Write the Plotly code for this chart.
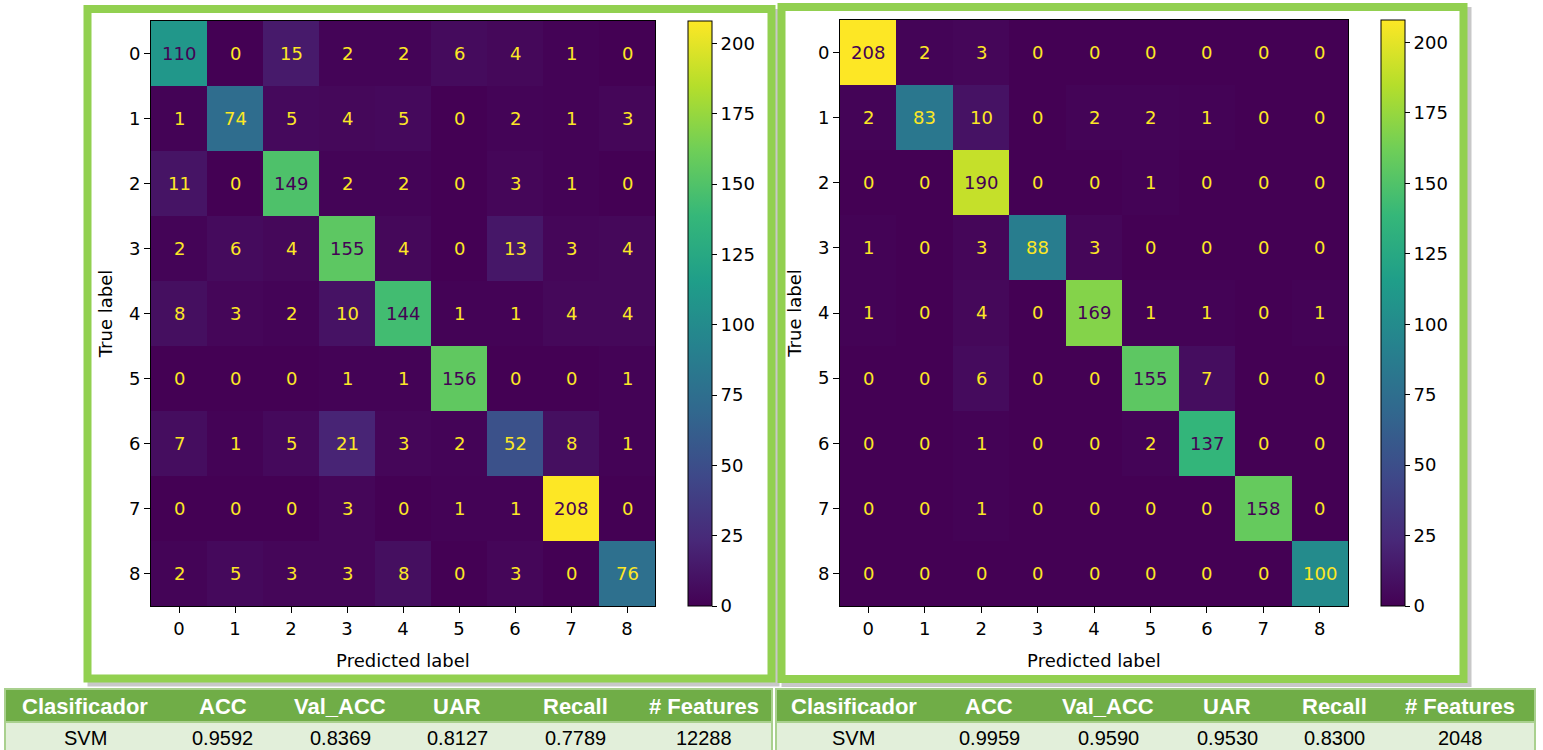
import plotly.graph_objects as go

W, H = 1543, 750

labels = [str(i) for i in range(9)]

cm_left = [
    [110, 0, 15, 2, 2, 6, 4, 1, 0],
    [1, 74, 5, 4, 5, 0, 2, 1, 3],
    [11, 0, 149, 2, 2, 0, 3, 1, 0],
    [2, 6, 4, 155, 4, 0, 13, 3, 4],
    [8, 3, 2, 10, 144, 1, 1, 4, 4],
    [0, 0, 0, 1, 1, 156, 0, 0, 1],
    [7, 1, 5, 21, 3, 2, 52, 8, 1],
    [0, 0, 0, 3, 0, 1, 1, 208, 0],
    [2, 5, 3, 3, 8, 0, 3, 0, 76],
]

cm_right = [
    [208, 2, 3, 0, 0, 0, 0, 0, 0],
    [2, 83, 10, 0, 2, 2, 1, 0, 0],
    [0, 0, 190, 0, 0, 1, 0, 0, 0],
    [1, 0, 3, 88, 3, 0, 0, 0, 0],
    [1, 0, 4, 0, 169, 1, 1, 0, 1],
    [0, 0, 6, 0, 0, 155, 7, 0, 0],
    [0, 0, 1, 0, 0, 2, 137, 0, 0],
    [0, 0, 1, 0, 0, 0, 0, 158, 0],
    [0, 0, 0, 0, 0, 0, 0, 0, 100],
]

cbar_ticks = [0, 25, 50, 75, 100, 125, 150, 175, 200]

table_header = ["Clasificador", "ACC", "Val_ACC", "UAR", "Recall", "# Features"]
left_row = ["SVM", "0.9592", "0.8369", "0.8127", "0.7789", "12288"]
right_row = ["SVM", "0.9959", "0.9590", "0.9530", "0.8300", "2048"]


def fx(x):
    return x / W


def fy(y):
    return 1 - y / H


FONT = "DejaVu Sans"
TFONT = "Liberation Sans"
DARK = "#440154"
LIGHT = "#fde725"
GREEN = "#92d050"
CELL_BG = "#e2efda"
HDR_BG = "#70ad47"

fig = go.Figure()

panels = [
    dict(cm=cm_left, xa="x", ya="y", xd=(151, 655), yd=(21, 606), cbx=688, cby=21, axn=""),
    dict(cm=cm_right, xa="x2", ya="y2", xd=(840, 1348), yd=(20, 606), cbx=1381, cby=20, axn="2"),
]

zmax = max(max(max(r) for r in cm_left), max(max(r) for r in cm_right))

annotations = []
for p in panels:
    cm = p["cm"]
    fig.add_trace(go.Heatmap(
        z=cm, x=labels, y=labels, xaxis=p["xa"], yaxis=p["ya"],
        colorscale="Viridis", zmin=0, zmax=zmax, hoverinfo="skip",
        colorbar=dict(
            x=fx(p["cbx"]), xanchor="left", xpad=0,
            y=fy(p["cby"]), yanchor="top", ypad=0,
            lenmode="pixels", len=p["yd"][1] - p["yd"][0],
            thicknessmode="pixels", thickness=24,
            outlinewidth=1, outlinecolor="black",
            tickvals=cbar_ticks, ticks="outside", ticklen=5, tickcolor="black",
            tickfont=dict(family=FONT, size=18, color="black"),
        ),
    ))
    vmax = max(max(r) for r in cm)
    thr = vmax / 2
    for i, row in enumerate(cm):
        for j, v in enumerate(row):
            annotations.append(dict(
                x=labels[j], y=labels[i], xref=p["xa"], yref=p["ya"],
                text=str(v), showarrow=False,
                font=dict(family=FONT, size=18, color=DARK if v > thr else LIGHT),
            ))

# tables (background blocks + centred text per column)
colw_left = [160, 115, 120, 114, 122, 136]
colw_right = [156, 114, 124, 114, 101, 150]
table_boxes = [(5, left_row, colw_left), (776, right_row, colw_right)]
TTOP = 689
HDR_B = 722

shapes = []
for x_start, row, cw in table_boxes:
    x_end = x_start + sum(cw)
    shapes.append(dict(type="rect", xref="paper", yref="paper", layer="below",
                       x0=fx(x_start), x1=fx(x_end), y0=fy(TTOP), y1=fy(HDR_B),
                       fillcolor=HDR_BG, line=dict(color="#a9d08e", width=2)))
    shapes.append(dict(type="rect", xref="paper", yref="paper", layer="below",
                       x0=fx(x_start), x1=fx(x_end), y0=fy(HDR_B), y1=fy(H + 2),
                       fillcolor=CELL_BG, line=dict(color="#a9d08e", width=2)))
    left = x_start
    for head, val, w in zip(table_header, row, cw):
        cx = left + w / 2
        annotations.append(dict(
            x=fx(cx), y=fy((TTOP + HDR_B) / 2 + 1), xref="paper", yref="paper",
            text="<b>%s</b>" % head, showarrow=False, xanchor="center", yanchor="middle",
            font=dict(family=TFONT, size=22, color="white"),
        ))
        annotations.append(dict(
            x=fx(cx), y=fy(738), xref="paper", yref="paper",
            text=val, showarrow=False, xanchor="center", yanchor="middle",
            font=dict(family=TFONT, size=20, color="black"),
        ))
        left += w

axis_common = dict(
    showline=True, mirror=True, linecolor="black", linewidth=1,
    ticks="outside", ticklen=6, tickcolor="black",
    tickfont=dict(family=FONT, size=18, color="black"),
    showgrid=False, zeroline=False, fixedrange=True,
)

layout = dict(
    width=W, height=H, margin=dict(l=0, r=0, t=0, b=0),
    paper_bgcolor="white", plot_bgcolor="white",
    font=dict(family=FONT, color="black"),
    annotations=annotations,
    showlegend=False,
)
for p in panels:
    n = p["axn"]
    layout["xaxis" + n] = dict(
        axis_common, domain=[fx(p["xd"][0]), fx(p["xd"][1])], anchor="y" + n,
        title=dict(text="Predicted label", font=dict(family=FONT, size=18), standoff=16),
    )
    layout["yaxis" + n] = dict(
        axis_common, domain=[fy(p["yd"][1]), fy(p["yd"][0])], anchor="x" + n,
        autorange="reversed",
        title=dict(text="True label", font=dict(family=FONT, size=18), standoff=11),
    )

# panel shadows and green frames
boxes = [(87.5, 9, 771.5, 678.5), (781.5, 7, 1463.5, 679)]
for (x0, y0, x1, y1) in boxes:
    shapes.append(dict(type="rect", xref="paper", yref="paper", layer="below",
                       x0=fx(x0 + 4), x1=fx(x1 + 4), y0=fy(y0 + 4), y1=fy(y1 + 4),
                       line=dict(color="#c8c8c8", width=8)))
for (x0, y0, x1, y1) in boxes:
    shapes.append(dict(type="rect", xref="paper", yref="paper", layer="below",
                       x0=fx(x0), x1=fx(x1), y0=fy(y0), y1=fy(y1),
                       fillcolor="white",
                       line=dict(color=GREEN, width=8)))
layout["shapes"] = shapes

fig.update_layout(**layout)
fig.write_html("out.html")
